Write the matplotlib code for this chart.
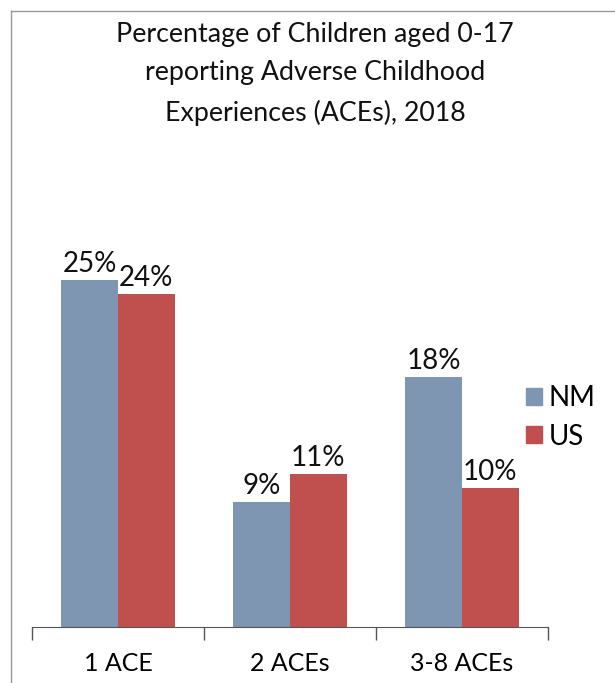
import numpy as np
import matplotlib.pyplot as plt
from matplotlib.lines import Line2D

categories = ['1 ACE', '2 ACEs', '3-8 ACEs']
nm_values = [25, 9, 18]
us_values = [24, 11, 10]
series_names = ['NM', 'US']
colors = ['#7F96B2', '#C0504D']

plt.rcParams['font.family'] = ['Lato', 'DejaVu Sans']

fig = plt.figure(figsize=(6.15, 6.83), dpi=100)
ax = fig.add_axes([0.052, 0.082, 0.839, 0.61])

x = np.arange(len(categories))
w = 0.33
bars_nm = ax.bar(x - w / 2, nm_values, w, color=colors[0], label=series_names[0])
bars_us = ax.bar(x + w / 2, us_values, w, color=colors[1], label=series_names[1])

for bars in (bars_nm, bars_us):
    for b in bars:
        ax.text(b.get_x() + b.get_width() / 2, b.get_height() + 0.2, f'{b.get_height():.0f}%',
                ha='center', va='bottom', fontsize=20, color='#111111')

ax.set_xlim(-0.5, 2.5)
ax.set_ylim(0, 30)
ax.set_yticks([])
ax.set_xticks(x)
ax.set_xticklabels(categories, fontsize=18)
ax.tick_params(axis='x', length=0, pad=18)
# tick marks between categories
ax.set_xticks([-0.5, 0.5, 1.5, 2.5], minor=True)
ax.tick_params(axis='x', which='minor', length=9, color='#555555', width=1)
for s in ['top', 'right', 'left']:
    ax.spines[s].set_visible(False)
ax.spines['bottom'].set_color('#555555')

handles = [plt.Rectangle((0, 0), 1, 1, color=c) for c in colors]
fig.legend(handles, series_names, loc='center left', bbox_to_anchor=(0.815, 0.389),
           frameon=False, fontsize=20, handlelength=0.55, handleheight=0.55,
           handletextpad=0.25, labelspacing=0.45)

fig.text(0.512, 0.968, 'Percentage of Children aged 0-17\nreporting Adverse Childhood\nExperiences (ACEs), 2018',
         ha='center', va='top', fontsize=19.3, linespacing=1.68, color='#111111')

# outer chart border (left and top edges visible)
fig.add_artist(Line2D([11 / 615, 11 / 615], [0, 1 - 11 / 683], transform=fig.transFigure, color='#999999', lw=1))
fig.add_artist(Line2D([11 / 615, 1], [1 - 11 / 683, 1 - 11 / 683], transform=fig.transFigure, color='#999999', lw=1))

fig.savefig('out.png', dpi=100)
